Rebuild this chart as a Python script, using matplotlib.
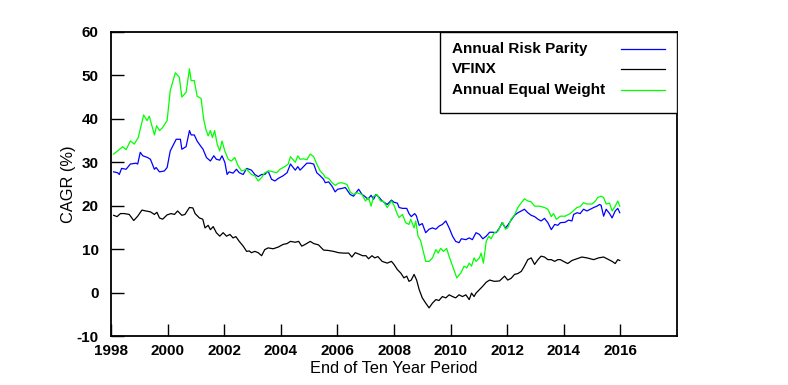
import matplotlib
matplotlib.use('Agg')
import matplotlib.pyplot as plt
from matplotlib.lines import Line2D
from matplotlib.patches import Rectangle

plt.rcParams['font.family'] = ['Liberation Sans', 'DejaVu Sans']
plt.rcParams['axes.unicode_minus'] = False

# Annual Risk Parity (blue)
rp_years = [1998.09, 1998.23, 1998.29, 1998.37, 1998.53, 1998.68, 1998.88, 1998.94, 1999.03, 1999.12,
            1999.29, 1999.39, 1999.53, 1999.59, 1999.71, 1999.88, 1999.98, 2000.09, 2000.30, 2000.45,
            2000.50, 2000.65, 2000.77, 2000.83, 2000.94, 2001.04, 2001.18, 2001.25, 2001.37, 2001.51,
            2001.63, 2001.72, 2001.84, 2001.92, 2002.02, 2002.10, 2002.17, 2002.31, 2002.43, 2002.53,
            2002.67, 2002.79, 2002.96, 2003.08, 2003.20, 2003.32, 2003.43, 2003.55, 2003.67, 2003.79,
            2003.91, 2004.08, 2004.22, 2004.34, 2004.51, 2004.60, 2004.68, 2004.80, 2004.92, 2005.04,
            2005.16, 2005.27, 2005.39, 2005.51, 2005.57, 2005.69, 2005.81, 2005.92, 2006.01, 2006.16,
            2006.28, 2006.45, 2006.57, 2006.75, 2006.87, 2006.96, 2007.08, 2007.19, 2007.28, 2007.36,
            2007.48, 2007.58, 2007.76, 2007.91, 2008.00, 2008.12, 2008.18, 2008.30, 2008.45, 2008.53,
            2008.61, 2008.73, 2008.79, 2008.89, 2009.00, 2009.12, 2009.24, 2009.36, 2009.48, 2009.59,
            2009.71, 2009.83, 2009.95, 2010.07, 2010.18, 2010.30, 2010.38, 2010.54, 2010.66, 2010.77,
            2010.90, 2011.02, 2011.14, 2011.26, 2011.38, 2011.49, 2011.61, 2011.73, 2011.82, 2011.94,
            2012.02, 2012.14, 2012.26, 2012.38, 2012.50, 2012.61, 2012.73, 2012.85, 2012.97, 2013.09,
            2013.20, 2013.32, 2013.44, 2013.56, 2013.68, 2013.79, 2013.88, 2014.05, 2014.17, 2014.29,
            2014.35, 2014.47, 2014.58, 2014.70, 2014.82, 2014.94, 2015.06, 2015.17, 2015.27, 2015.32,
            2015.41, 2015.50, 2015.62, 2015.71, 2015.82, 2015.91, 2015.98]
rp_cagr = [27.8, 27.6, 27.2, 28.6, 28.4, 29.6, 29.8, 29.6, 32.3, 31.5,
           31.1, 30.7, 28.4, 28.8, 27.8, 28.0, 28.8, 32.6, 35.3, 35.3,
           33.0, 33.6, 37.3, 36.3, 36.3, 34.9, 33.6, 33.0, 31.1, 30.3,
           31.5, 30.7, 30.5, 31.5, 30.0, 27.2, 27.8, 27.5, 28.4, 27.6,
           27.2, 28.6, 28.2, 27.2, 26.7, 27.2, 27.2, 28.0, 26.1, 25.7,
           26.3, 26.9, 27.6, 29.6, 28.2, 29.0, 28.2, 29.0, 29.8, 29.8,
           29.6, 27.6, 26.9, 26.1, 25.3, 25.5, 24.5, 23.2, 23.8, 24.0,
           24.2, 22.6, 22.2, 23.8, 22.6, 22.2, 21.5, 22.4, 21.5, 22.6,
           21.9, 21.1, 20.3, 21.3, 20.8, 20.6, 19.6, 19.4, 19.4, 18.2,
           17.5, 18.2, 17.7, 15.5, 15.9, 13.8, 14.6, 14.9, 14.6, 15.3,
           15.7, 16.5, 14.9, 13.0, 11.8, 11.5, 12.4, 12.2, 12.6, 12.2,
           13.8, 13.4, 12.4, 13.0, 13.9, 13.9, 13.8, 14.9, 16.1, 14.9,
           15.5, 16.7, 17.8, 18.4, 18.8, 19.2, 18.4, 17.8, 17.5, 16.9,
           16.5, 17.1, 16.1, 14.5, 15.7, 15.5, 16.1, 16.2, 16.7, 16.5,
           18.0, 18.4, 18.2, 19.2, 18.8, 19.2, 19.6, 19.9, 20.3, 20.1,
           17.6, 19.2, 18.2, 17.2, 18.8, 19.4, 18.4]

# VFINX (black)
vf_years = [1998.09, 1998.21, 1998.33, 1998.47, 1998.64, 1998.80, 1998.94, 1999.09, 1999.23, 1999.39,
            1999.53, 1999.62, 1999.71, 1999.82, 1999.98, 2000.12, 2000.24, 2000.35, 2000.50, 2000.61,
            2000.77, 2000.89, 2000.97, 2001.12, 2001.24, 2001.32, 2001.43, 2001.51, 2001.61, 2001.72,
            2001.84, 2001.96, 2002.08, 2002.20, 2002.31, 2002.41, 2002.53, 2002.67, 2002.79, 2002.88,
            2002.96, 2003.08, 2003.20, 2003.32, 2003.43, 2003.55, 2003.73, 2003.91, 2004.08, 2004.22,
            2004.34, 2004.51, 2004.63, 2004.74, 2004.86, 2005.04, 2005.16, 2005.33, 2005.51, 2005.69,
            2005.86, 2006.04, 2006.22, 2006.40, 2006.51, 2006.63, 2006.75, 2006.89, 2007.01, 2007.10,
            2007.22, 2007.32, 2007.43, 2007.58, 2007.76, 2007.91, 2008.00, 2008.12, 2008.24, 2008.35,
            2008.45, 2008.53, 2008.61, 2008.71, 2008.80, 2008.89, 2009.00, 2009.12, 2009.24, 2009.36,
            2009.48, 2009.59, 2009.71, 2009.83, 2009.95, 2010.07, 2010.18, 2010.30, 2010.42, 2010.54,
            2010.66, 2010.74, 2010.83, 2010.90, 2011.02, 2011.14, 2011.26, 2011.38, 2011.55, 2011.73,
            2011.91, 2012.02, 2012.14, 2012.26, 2012.38, 2012.50, 2012.61, 2012.73, 2012.85, 2012.97,
            2013.09, 2013.20, 2013.32, 2013.44, 2013.56, 2013.68, 2013.79, 2013.88, 2013.99, 2014.14,
            2014.29, 2014.47, 2014.64, 2014.82, 2015.06, 2015.23, 2015.41, 2015.59, 2015.71, 2015.82,
            2015.91, 2015.98]
vf_cagr = [17.8, 17.5, 18.2, 18.2, 18.0, 16.6, 17.6, 19.0, 18.8, 18.6,
           18.0, 18.5, 17.2, 16.9, 17.9, 18.2, 18.0, 18.8, 17.8, 18.0,
           19.6, 19.5, 18.2, 17.2, 16.9, 14.9, 15.5, 14.5, 15.2, 13.8,
           13.0, 13.8, 13.0, 13.4, 12.6, 12.9, 11.8, 10.7, 9.5, 9.6,
           9.2, 9.5, 9.2, 8.5, 9.9, 10.3, 10.1, 10.5, 11.1, 11.3,
           11.8, 11.6, 11.8, 10.7, 11.1, 11.8, 11.3, 11.0, 9.8, 9.7,
           9.5, 9.2, 9.1, 9.1, 8.2, 9.2, 8.9, 8.5, 8.5, 7.8,
           8.5, 8.0, 8.3, 7.2, 6.8, 7.2, 6.5, 5.3, 4.5, 3.4,
           3.8, 2.6, 2.9, 4.2, 2.9, 0.7, -1.2, -2.4, -3.5, -2.4,
           -1.6, -1.8, -0.9, -1.2, -0.5, -0.9, -1.2, -0.5, -0.9, -0.5,
           -1.6, -0.1, -0.9, -0.1, 0.7, 1.5, 2.4, 2.9, 2.6, 2.7,
           3.8, 2.9, 3.3, 4.2, 4.4, 4.9, 6.1, 7.6, 8.0, 6.5,
           7.6, 8.4, 8.2, 7.6, 7.6, 7.2, 7.6, 7.6, 7.2, 6.7,
           7.4, 7.8, 8.2, 8.0, 7.6, 8.0, 8.2, 7.6, 7.2, 6.7,
           7.6, 7.4]

# Annual Equal Weight (green)
ew_years = [1998.09, 1998.23, 1998.41, 1998.53, 1998.68, 1998.82, 1998.96, 1999.15, 1999.27, 1999.35,
            1999.53, 1999.61, 1999.71, 1999.82, 1999.98, 2000.09, 2000.27, 2000.41, 2000.50, 2000.65,
            2000.77, 2000.83, 2000.94, 2001.04, 2001.18, 2001.27, 2001.35, 2001.43, 2001.51, 2001.58,
            2001.66, 2001.75, 2001.84, 2001.92, 2002.02, 2002.14, 2002.25, 2002.37, 2002.49, 2002.61,
            2002.79, 2002.96, 2003.08, 2003.20, 2003.32, 2003.43, 2003.61, 2003.85, 2003.97, 2004.14,
            2004.26, 2004.34, 2004.51, 2004.60, 2004.68, 2004.80, 2004.92, 2005.04, 2005.16, 2005.27,
            2005.39, 2005.51, 2005.57, 2005.69, 2005.81, 2005.92, 2006.04, 2006.16, 2006.34, 2006.45,
            2006.57, 2006.69, 2006.87, 2006.99, 2007.10, 2007.19, 2007.28, 2007.40, 2007.52, 2007.63,
            2007.76, 2007.91, 2008.00, 2008.12, 2008.18, 2008.30, 2008.41, 2008.53, 2008.59, 2008.71,
            2008.77, 2008.85, 2008.94, 2009.12, 2009.24, 2009.36, 2009.48, 2009.56, 2009.65, 2009.75,
            2009.86, 2009.95, 2010.07, 2010.22, 2010.36, 2010.48, 2010.57, 2010.66, 2010.74, 2010.83,
            2010.90, 2011.02, 2011.08, 2011.16, 2011.26, 2011.35, 2011.43, 2011.55, 2011.67, 2011.79,
            2011.85, 2011.94, 2012.02, 2012.14, 2012.26, 2012.38, 2012.50, 2012.61, 2012.73, 2012.85,
            2012.97, 2013.15, 2013.32, 2013.44, 2013.56, 2013.64, 2013.74, 2013.88, 2014.05, 2014.23,
            2014.35, 2014.47, 2014.58, 2014.70, 2014.82, 2015.00, 2015.12, 2015.20, 2015.32, 2015.41,
            2015.50, 2015.62, 2015.71, 2015.82, 2015.91, 2015.98]
ew_cagr = [31.9, 32.6, 33.6, 32.9, 34.9, 34.2, 35.7, 40.9, 39.6, 40.6,
           36.3, 38.4, 37.3, 38.0, 39.6, 46.5, 50.6, 49.6, 45.0, 46.1,
           51.5, 48.8, 48.8, 45.2, 44.7, 40.0, 37.6, 36.1, 37.3, 35.7,
           37.3, 34.2, 32.6, 34.9, 32.6, 30.7, 30.3, 31.1, 29.2, 28.0,
           28.4, 27.2, 26.9, 25.7, 26.5, 27.6, 28.0, 27.6, 28.4, 29.0,
           29.6, 31.3, 30.0, 31.5, 30.7, 30.8, 30.6, 31.9, 31.3, 29.6,
           28.0, 27.2, 26.5, 26.3, 25.3, 24.7, 25.2, 25.3, 24.9, 23.2,
           22.6, 23.0, 22.6, 21.1, 21.9, 19.9, 22.2, 22.6, 21.1, 21.0,
           19.6, 21.1, 20.1, 18.0, 17.3, 18.0, 16.1, 15.7, 16.9, 14.9,
           16.5, 13.0, 12.0, 7.2, 7.2, 8.0, 9.9, 9.1, 10.2, 9.5,
           10.2, 8.3, 6.1, 3.4, 4.5, 6.1, 5.7, 6.8, 6.1, 8.0,
           7.2, 8.0, 9.1, 6.8, 11.8, 13.0, 12.4, 13.8, 14.1, 15.7,
           16.1, 14.6, 14.9, 16.9, 17.9, 19.6, 20.7, 21.6, 21.1, 20.9,
           19.9, 19.9, 19.6, 19.2, 17.5, 18.2, 16.9, 17.6, 17.6, 18.2,
           18.9, 19.6, 19.8, 20.7, 20.4, 20.4, 21.1, 21.9, 22.2, 21.9,
           20.4, 20.6, 18.8, 19.9, 21.1, 19.9]

x_ticks = [1998, 2000, 2002, 2004, 2006, 2008, 2010, 2012, 2014, 2016]
y_ticks = [-10, 0, 10, 20, 30, 40, 50, 60]

fig = plt.figure(figsize=(7.88, 3.85), dpi=100)
ax = fig.add_axes([0.141, 0.127, 0.718, 0.79])

lines = []
lines += ax.plot(rp_years, rp_cagr, color='#0000ff', linewidth=0.9, label='Annual Risk Parity')
lines += ax.plot(vf_years, vf_cagr, color='black', linewidth=0.9, label='VFINX')
lines += ax.plot(ew_years, ew_cagr, color='#00ff00', linewidth=0.9, label='Annual Equal Weight')

ax.set_xlim(1998, 2018)
ax.set_ylim(-10, 60)
ax.set_xticks(x_ticks)
ax.set_yticks(y_ticks)
ax.tick_params(direction='in', length=9, width=1, top=False, right=False, labelsize=11)
ax.tick_params(axis='y', pad=9)
ax.tick_params(axis='x', pad=6)
for lbl in ax.get_xticklabels() + ax.get_yticklabels():
    lbl.set_fontweight('bold')
for sp in ax.spines.values():
    sp.set_linewidth(1.3)

ax.set_xlabel('End of Ten Year Period', fontsize=11.8, labelpad=2)
ax.set_ylabel('CAGR (%)', fontsize=11.8, labelpad=0)

# legend drawn by hand: text on the left, line sample on the right
ax.add_patch(Rectangle((0.581, 0.734), 0.419, 0.266, transform=ax.transAxes,
                       facecolor='white', edgecolor='black', linewidth=1.0, zorder=5))
row_y = [0.944, 0.878, 0.809]
for ln, y in zip(lines, row_y):
    ax.text(0.602, y, ln.get_label(), transform=ax.transAxes, fontsize=11,
            fontweight='bold', ha='left', va='center', zorder=6)
    ax.add_line(Line2D([0.901, 0.979], [y, y], transform=ax.transAxes,
                       color=ln.get_color(), linewidth=0.9, zorder=6))

fig.savefig('out.png', dpi=100)
